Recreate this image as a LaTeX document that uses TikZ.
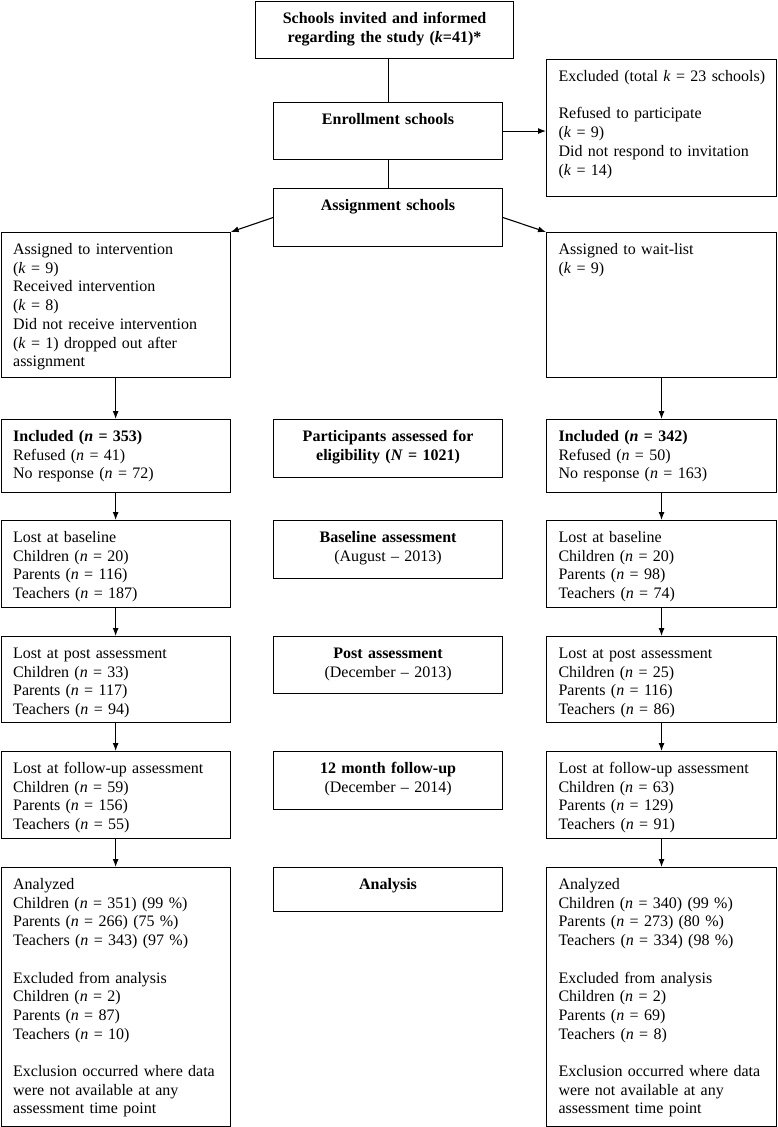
\documentclass[tikz,border=0pt]{standalone}
\usepackage{fontspec}
\setmainfont{Liberation Serif}
\usetikzlibrary{arrows.meta}
\begin{document}
\begin{tikzpicture}[x=1pt, y=1pt, >={Latex[length=8pt,width=6pt]},
    box/.style={draw, line width=1.1pt, anchor=north west, inner xsep=12pt, inner ysep=10pt, text height=12pt, text width=205pt, align=left, font=\fontsize{16pt}{18.7pt}\selectfont},
    head/.style={box, align=center, font=\fontsize{16pt}{18.7pt}\selectfont\bfseries}]
    \useasboundingbox (0,0) rectangle (777,-1127);
    % schools
    \node[head, text width=234pt, text depth=25pt] (invited) at (255,-1) {Schools invited and informed\\regarding the study (\textit{k}=41)*};
    \node[box, text width=206pt, text depth=105pt] (excl) at (546,-59) {\mbox{Excluded (total \textit{k} = 23 schools)}\\[18.7pt]Refused to participate\\(\textit{k} = 9)\\Did not respond to invitation\\(\textit{k} = 14)};
    \node[head, text depth=25pt] (enroll) at (273,-102) {Enrollment schools};
    \node[head, text depth=26pt] (assign) at (273,-188) {Assignment schools};
    \node[box, text depth=113pt] (interv) at (0.6,-232) {Assigned to intervention\\(\textit{k} = 9)\\Received intervention\\(\textit{k} = 8)\\Did not receive intervention\\(\textit{k} = 1) dropped out after\\assignment};
    \node[box, text width=206pt, text depth=113pt] (wait) at (546,-232) {Assigned to wait-list\\(\textit{k} = 9)};
    % participants
    \node[box, text depth=41pt] (inclL) at (0.6,-419) {\textbf{Included (\textit{n} = 353)}\\Refused (\textit{n} = 41)\\No response (\textit{n} = 72)};
    \node[head, text depth=26pt] (elig) at (273,-419) {Participants assessed for\\eligibility (\textit{N} = 1021)};
    \node[box, text width=206pt, text depth=41pt] (inclR) at (546,-419) {\textbf{Included (\textit{n} = 342)}\\Refused (\textit{n} = 50)\\No response (\textit{n} = 163)};
    \node[box, text depth=55pt] (baseL) at (0.6,-520) {Lost at baseline\\Children (\textit{n} = 20)\\Parents (\textit{n} = 116)\\Teachers (\textit{n} = 187)};
    \node[head, text depth=26pt] (base) at (273,-520) {Baseline assessment\\\mdseries(August -- 2013)};
    \node[box, text width=206pt, text depth=55pt] (baseR) at (546,-520) {Lost at baseline\\Children (\textit{n} = 20)\\Parents (\textit{n} = 98)\\Teachers (\textit{n} = 74)};
    \node[box, text depth=54pt] (postL) at (0.6,-636) {Lost at post assessment\\Children (\textit{n} = 33)\\Parents (\textit{n} = 117)\\Teachers (\textit{n} = 94)};
    \node[head, text depth=25pt] (post) at (273,-636) {Post assessment\\\mdseries(December -- 2013)};
    \node[box, text width=206pt, text depth=54pt] (postR) at (546,-636) {Lost at post assessment\\Children (\textit{n} = 25)\\Parents (\textit{n} = 116)\\Teachers (\textit{n} = 86)};
    \node[box, text depth=55pt] (fuL) at (0.6,-751) {Lost at follow-up assessment\\Children (\textit{n} = 59)\\Parents (\textit{n} = 156)\\Teachers (\textit{n} = 55)};
    \node[head, text depth=26pt] (fu) at (273,-751) {12 month follow-up\\\mdseries(December -- 2014)};
    \node[box, text width=206pt, text depth=55pt] (fuR) at (546,-751) {Lost at follow-up assessment\\Children (\textit{n} = 63)\\Parents (\textit{n} = 129)\\Teachers (\textit{n} = 91)};
    \node[box, text depth=227pt] (anaL) at (0.6,-867) {Analyzed\\Children (\textit{n} = 351) (99 \%)\\Parents (\textit{n} = 266) (75 \%)\\Teachers (\textit{n} = 343) (97 \%)\\[18.7pt]Excluded from analysis\\Children (\textit{n} = 2)\\Parents (\textit{n} = 87)\\Teachers (\textit{n} = 10)\\[18.7pt]Exclusion occurred where data\\were not available at any\\assessment time point};
    \node[head, text depth=12pt] (ana) at (273,-867) {Analysis};
    \node[box, text width=206pt, text depth=227pt] (anaR) at (546,-867) {Analyzed\\Children (\textit{n} = 340) (99 \%)\\Parents (\textit{n} = 273) (80 \%)\\Teachers (\textit{n} = 334) (98 \%)\\[18.7pt]Excluded from analysis\\Children (\textit{n} = 2)\\Parents (\textit{n} = 69)\\Teachers (\textit{n} = 8)\\[18.7pt]Exclusion occurred where data\\were not available at any\\assessment time point};
    % connectors
    \draw[line width=1.1pt] (enroll.north |- invited.south) -- (enroll.north);
    \draw[line width=1.1pt] (enroll.south) -- (assign.north);
    \draw[line width=1.1pt, ->] (enroll.east) -- (enroll.east -| excl.west);
    \draw[line width=1.1pt, ->] (assign.west) -- (interv.north east);
    \draw[line width=1.1pt, ->] (assign.east) -- (wait.north west);
    \foreach \a/\b in {interv/inclL, inclL/baseL, baseL/postL, postL/fuL, fuL/anaL,
                       wait/inclR, inclR/baseR, baseR/postR, postR/fuR, fuR/anaR}
      \draw[line width=1.1pt, ->] (\a.south) -- (\b.north);
\end{tikzpicture}
\end{document}
